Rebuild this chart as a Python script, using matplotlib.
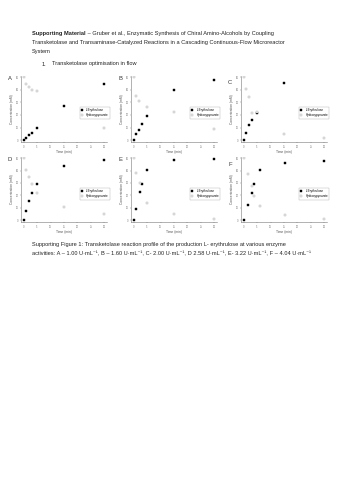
import matplotlib
matplotlib.use('Agg')
import matplotlib.pyplot as plt

plt.rcParams['font.family'] = ['Liberation Sans', 'DejaVu Sans']

W, H = 339, 480

# panel data (time in min, concentration in mM)
panel_labels = ['A', 'B', 'C', 'D', 'E', 'F']
times_A = [0, 1, 2, 3, 5, 15, 30]
ery_A = [0, 1.8, 4.3, 5.6, 9.4, 27, 45]
hpa_A = [50, 45, 42, 40, 39, None, 10]
times_B = [0, 1, 2, 3, 5, 15, 30]
ery_B = [0, 4.6, 7.7, 12.8, 19.5, 40, 47.7]
hpa_B = [50, 35.4, 31.5, None, 26.4, 22.6, 8.5]
times_C = [0, 1, 2, 3, 5, 15, 30]
ery_C = [0, 5.8, 11.9, 16, 21.6, 45.7, None]
hpa_C = [50, 40.6, 34.3, 21.6, 22.1, 5, 1.3]
times_D = [0, 1, 2, 3, 5, 15, 30]
ery_D = [0, 7.7, 15.4, 21.8, 29.5, 43.6, 48.2]
hpa_D = [50, 40.3, 34.6, 29.5, 21.8, 11, 5.1]
times_E = [0, 1, 2.5, 3, 5, 15, 30]
ery_E = [0, 9.2, 23, 28.8, 40.6, 48.4, 49.2]
hpa_E = [50, 38, 29.6, None, 13.9, 4.7, 0.8]
times_F = [0, 1.5, 3, 4, 6, 15.5, 30]
ery_F = [0, 12.2, 22, 29.3, 40.2, 45.9, 47.9]
hpa_F = [50, 37, 27.2, 19.4, 11.7, 3.9, 1.3]

legend_names = ['L-Erythrulose', 'Hydroxypyruvate']
x_ticks = [0, 5, 10, 15, 20, 25, 30]
y_ticks = [0, 10, 20, 30, 40, 50]

header = ['Supporting Material', ' \u2013 Gruber et al., Enzymatic Synthesis of Chiral Amino-Alcohols by Coupling',
          'Transketolase and Transaminase-Catalyzed Reactions in a Cascading Continuous-Flow Microreactor',
          'System']
section = ['1.', 'Transketolase optimisation in flow']
sup = '\u207b\u00b9'
caption = ['Supporting Figure 1: Transketolase reaction profile of the production L- erythrulose at various enzyme',
           f'activities: A \u2013 1.00 U\u00b7mL{sup}, B \u2013 1.60 U\u00b7mL{sup}, C- 2.00 U\u00b7mL{sup}, '
           f'D 2.58 U\u00b7mL{sup}, E- 3.22 U\u00b7mL{sup}, F \u2013 4.04 U\u00b7mL{sup}']

data = [(times_A, ery_A, hpa_A), (times_B, ery_B, hpa_B), (times_C, ery_C, hpa_C),
        (times_D, ery_D, hpa_D), (times_E, ery_E, hpa_E), (times_F, ery_F, hpa_F)]

fig = plt.figure(figsize=(W / 100, H / 100), dpi=100)
fig.patch.set_facecolor('white')


def px(x, y):
    return x / W, 1 - y / H


def rect(l, t, r, b):
    return [l / W, 1 - b / H, (r - l) / W, (b - t) / H]


fs = 4.1
txt = '#222222'
# header
t1 = fig.text(*px(32, 34), header[0], fontsize=fs, fontweight='bold', va='center', color=txt)
fig.canvas.draw()
bb = t1.get_window_extent()
fig.text(bb.x1 / W, 1 - 34 / H, header[1], fontsize=fs, va='center', color=txt)
fig.text(*px(32, 42.5), header[2], fontsize=fs, va='center', color=txt)
fig.text(*px(32, 51), header[3], fontsize=fs, va='center', color=txt)
fig.text(*px(42, 64), section[0], fontsize=fs, va='center', color=txt)
fig.text(*px(52, 64), section[1], fontsize=fs, va='center', color=txt)

# panels
lefts = [21, 131, 241]
rows = [(76, 142), (157, 222)]
legend_x = [78, 188, 297]
for i, (t, e, h) in enumerate(data):
    r, c = divmod(i, 3)
    top, bot = rows[r]
    ax = fig.add_axes(rect(lefts[c], top, lefts[c] + 86, bot))
    te = [a for a, b in zip(t, e) if b is not None]
    ve = [b for b in e if b is not None]
    th = [a for a, b in zip(t, h) if b is not None]
    vh = [b for b in h if b is not None]
    ax.plot(te, ve, ls='none', marker='s', ms=2.1, mfc='black', mec='black', mew=0.3, label=legend_names[0])
    ax.plot(th, vh, ls='none', marker='s', ms=1.9, mfc='#eeeeee', mec='#b0b0b0', mew=0.3, label=legend_names[1])
    ax.set_xlim(-1, 31)
    ax.set_ylim(-1.5, 51)
    ax.set_xticks(x_ticks)
    ax.set_yticks(y_ticks)
    ax.tick_params(labelsize=1.8, length=1, width=0.3, pad=0.8, colors='#777777')
    for s in ['top', 'right']:
        ax.spines[s].set_visible(False)
    for s in ['left', 'bottom']:
        ax.spines[s].set_linewidth(0.4)
        ax.spines[s].set_color('#777777')
    ax.set_xlabel('Time (min)', fontsize=2.4, labelpad=1, color='#555555')
    ax.set_ylabel('Concentration (mM)', fontsize=2.4, labelpad=1, color='#555555')
    leg = fig.legend(*ax.get_legend_handles_labels(), loc='upper left',
                     bbox_to_anchor=px(legend_x[c], top + 29), fontsize=2.2, frameon=True,
                     fancybox=False, borderpad=0.4, handlelength=1, handletextpad=0.8,
                     labelspacing=0.5)
    leg.get_frame().set_linewidth(0.3)
    leg.get_frame().set_edgecolor('#999999')
    fig.text(*px(lefts[c] - 13, top + 3 + (c == 2) * 4), panel_labels[i], fontsize=4.2, va='center', color='#333333')

# caption
fig.text(*px(32, 245), caption[0], fontsize=fs, va='center', color=txt)
fig.text(*px(32, 254), caption[1], fontsize=fs, va='center', color=txt)

fig.savefig('out.png', dpi=100, facecolor='white')
